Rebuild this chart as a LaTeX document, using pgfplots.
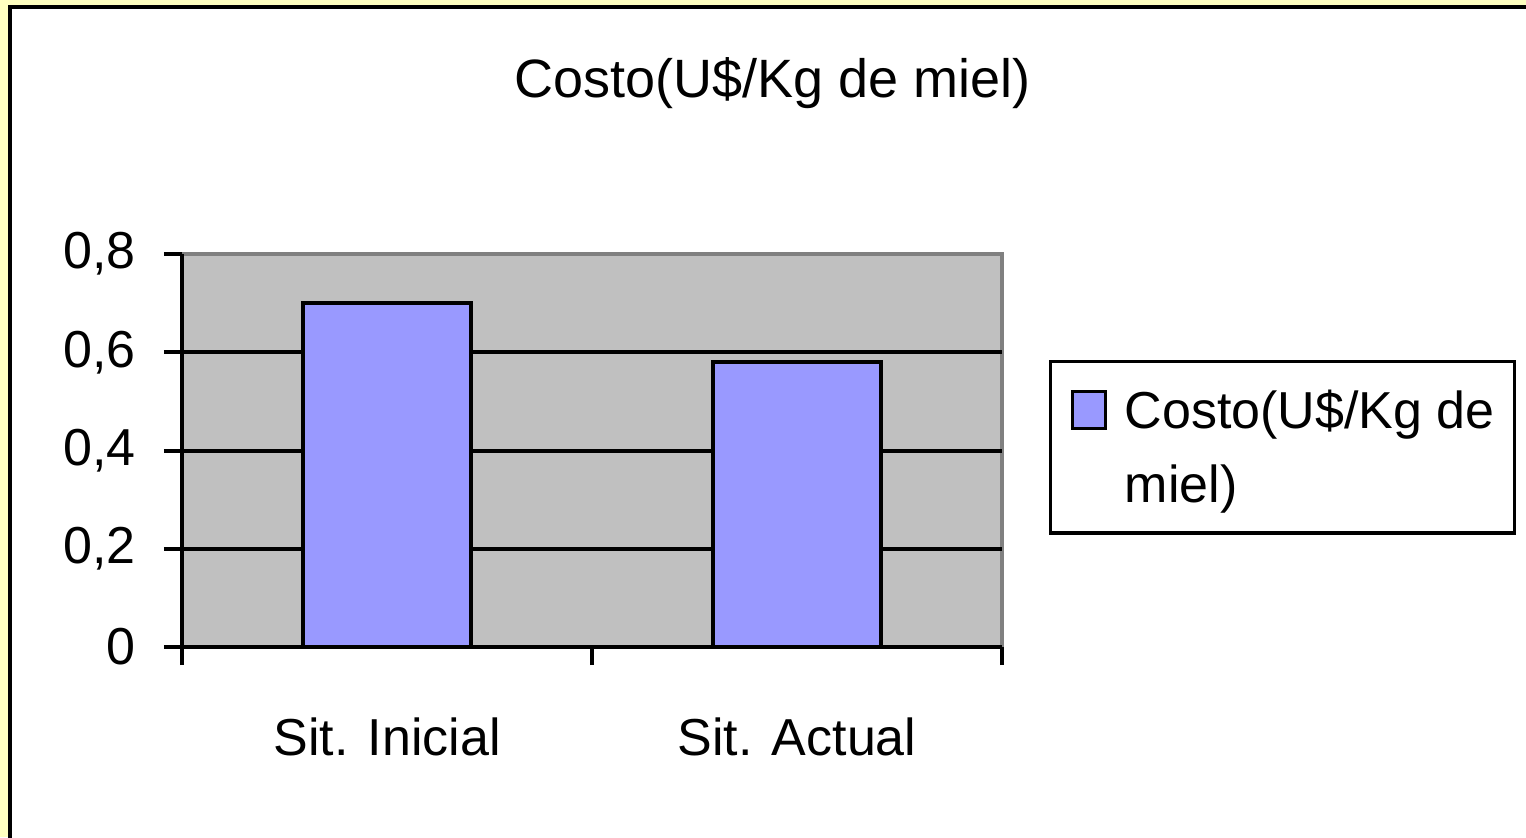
\documentclass[border=0pt]{standalone}
\usepackage{pgfplots}
\pgfplotsset{compat=1.18}
\usepackage{fontspec}
\setmainfont{Liberation Sans}
\definecolor{bgyellow}{HTML}{FFFFC0}
\definecolor{plotgray}{HTML}{C0C0C0}
\definecolor{bordergray}{HTML}{808080}
\definecolor{barblue}{HTML}{9999FF}
\begin{document}
\begin{tikzpicture}
\path[use as bounding box] (-91pt,-95pt) rectangle (672pt,323.5pt);
\fill[bgyellow] (-91pt,-95pt) rectangle (672pt,323.5pt);
\begin{scope}
\clip (-91pt,-95pt) rectangle (672pt,323.5pt);
\fill[white] (-85.85pt,-110pt) rectangle (690pt,319.85pt);
\draw[black,line width=2pt] (-85.85pt,-110pt) |- (690pt,319.85pt);
\end{scope}
\node[anchor=base, font=\fontsize{27}{32}\selectfont] at (295.25pt,275pt) {Costo(U\$/Kg de miel)};
\begin{axis}[
 at={(0pt,0pt)}, anchor=south west,
 scale only axis, width=410pt, height=196.5pt,
 xmin=-0.5, xmax=1.5, ymin=0, ymax=0.8,
 axis x line*=bottom, axis y line*=left,
 axis line style={black, line width=2pt},
 axis background/.style={fill=plotgray, draw=bordergray, line width=1.6pt},
 ytick={0,0.2,0.4,0.6,0.8},
 xtick={-0.5,0.5,1.5}, xticklabels={,,},
 extra x ticks={0,1}, extra x tick labels={Sit. Inicial, Sit. Actual},
 extra x tick style={major tick length=0pt},
 extra y ticks={0.2,0.4,0.6}, extra y tick labels={,,},
 extra y tick style={ymajorgrids=true, major tick length=0pt},
 major grid style={black, line width=2pt},
 tick align=outside, major tick length=9pt,
 tick style={black, line width=2pt},
 /pgf/number format/use comma, /pgf/number format/fixed,
 /pgf/number format/precision=1, /pgf/number format/assume math mode=true,
 yticklabel style={font=\fontsize{26}{31}\selectfont, anchor=east, inner sep=0pt, xshift=-14pt},
 xticklabel style={font=\fontsize{26}{31}\selectfont, anchor=north, inner sep=0pt, yshift=-35pt},
 legend style={at={(1.0573,0.7303)}, anchor=north west, draw=black, line width=1.6pt, fill=white,
   font=\fontsize{26}{37}\selectfont, cells={align=left}, nodes={inner sep=0pt},
   column sep=9pt, inner xsep=10pt, inner ysep=14pt},
]
\addplot[ybar, bar width=84pt, fill=barblue, draw=black, line width=2pt,
  legend image code/.code={\draw[fill=barblue, draw=black, line width=1.6pt] (0pt,9.5pt) rectangle (16.5pt,28pt);}]
  coordinates {(0,0.70) (1,0.58)};
\addlegendentry{Costo(U\$/Kg de\\miel)}
\end{axis}
\end{tikzpicture}
\end{document}
